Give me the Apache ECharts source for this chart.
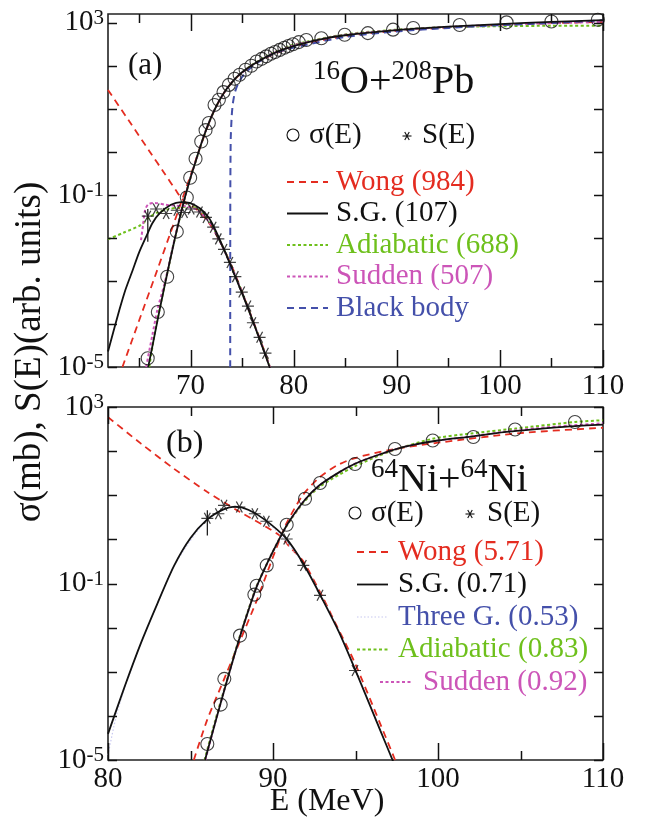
<!DOCTYPE html>
<html>
<head>
<meta charset="utf-8">
<script src="https://cdn.jsdelivr.net/npm/echarts@6.0.0/dist/echarts.min.js"></script>
<style>
  html, body { margin: 0; padding: 0; background: #fff; }
  #chart { width: 650px; height: 823px; }
</style>
</head>
<body>
<div id="chart"></div>
<script>
'use strict'

// ---- panel (a): 16O + 208Pb, [E (MeV), value] ----
const aSigma = [[65.85, 1.6e-5], [66.83, 1.9e-4], [67.74, 1.25e-3], [68.67, 1.4e-2], [69.64, 0.087], [69.97, 0.25],
  [70.49, 0.69], [71.04, 1.74], [71.46, 3.2], [71.78, 4.7], [72.33, 12.3], [72.75, 16.2], [73.2, 24.5], [73.72, 36],
  [74.27, 50], [74.76, 62], [75.34, 81], [75.9, 100], [76.4, 126], [76.9, 145], [77.35, 166], [77.8, 190], [78.2, 209],
  [78.64, 234], [79.1, 263], [79.5, 288], [79.93, 316], [80.5, 355], [81.23, 398], [82.69, 437], [84.95, 525],
  [87.2, 575], [89.64, 692], [91.6, 759], [96.1, 891], [100.65, 1023], [105.0, 1072], [109.5, 1175]]
const aSdata = [[65.86, 0.032], [66.67, 0.047], [67.64, 0.037], [68.67, 0.044], [69.42, 0.039], [70.07, 0.047],
  [70.87, 0.040], [71.5, 0.030], [72.2, 0.0178], [72.7, 0.0095], [73.25, 0.0054], [73.82, 0.0027], [74.35, 0.00126],
  [74.97, 5.5e-4], [75.57, 2.6e-4], [76.05, 1.07e-4], [76.7, 4.9e-5], [77.27, 2.1e-5]]
const aSerr = [[65.86, 0.0081], [65.86, 0.047]]
const aSgS = [[62.0, 2.3e-5], [62.5, 6.3e-5], [63.1, 2.1e-4], [63.7, 6.3e-4], [64.4, 1.8e-3], [65.0, 4.5e-3],
  [65.7, 0.0107], [66.3, 0.022], [67.0, 0.037], [68.1, 0.059], [69.1, 0.068], [69.9, 0.065], [70.9, 0.049],
  [71.8, 0.029], [72.5, 0.0138], [73.2, 5.75e-3], [74.0, 2.0e-3], [75.0, 5.2e-4], [76.0, 1.26e-4], [77.0, 2.8e-5],
  [77.7, 9.5e-6]]
const aSgSigma = [[65.9, 1e-5], [66.5, 5.2e-5], [67.0, 2.1e-4], [67.5, 7.9e-4], [68.0, 2.9e-3], [68.5, 0.01],
  [69.0, 0.032], [69.5, 0.095], [70.0, 0.25], [70.5, 0.6], [71.0, 1.45], [71.5, 3.16], [72.0, 6.3], [72.5, 11.5],
  [73.0, 19], [73.5, 28.8], [74.0, 40.7], [74.5, 55], [75.0, 71], [76.0, 105], [77.0, 145], [78.0, 191],
  [79.0, 240], [80.0, 288], [82.5, 407], [85.0, 513], [90.0, 676], [95.0, 813], [100.0, 933], [105.0, 1047],
  [110.0, 1148]]
const aWongS = [[62.0, 27.5], [64.0, 5.4], [66.0, 1.05], [67.5, 0.31], [68.6, 0.126], [69.1, 0.085], [69.6, 0.064],
  [70.2, 0.054], [71.0, 0.038], [72.0, 0.019], [73.0, 0.0072], [74.0, 2.2e-3], [75.0, 5.6e-4], [76.0, 1.3e-4],
  [77.0, 3.0e-5], [77.7, 1e-5]]
const aWongSigma = [[63.4, 1e-5], [65.0, 1.17e-4], [66.5, 1.17e-3], [68.0, 0.012], [68.8, 0.0417], [69.4, 0.11],
  [70.0, 0.28], [70.5, 0.63], [71.0, 1.41], [72.0, 6.3], [73.0, 19], [74.0, 40.7], [75.0, 69], [77.0, 141],
  [80.0, 275], [85.0, 490], [90.0, 646], [95.0, 776], [100.0, 891], [105.0, 977], [110.0, 1047]]
const aAdiaS = [[62.0, 0.0093], [63.5, 0.0132], [65.2, 0.020], [66.0, 0.030], [66.8, 0.039], [67.8, 0.046],
  [68.8, 0.051], [70.0, 0.054], [71.0, 0.043], [72.0, 0.021], [73.0, 0.0072], [74.0, 2.1e-3], [75.0, 5.4e-4],
  [76.0, 1.26e-4], [77.0, 2.9e-5], [77.7, 1e-5]]
const aAdiaSigma = [[66.0, 1e-5], [66.5, 5.5e-5], [67.0, 2.2e-4], [67.5, 8.1e-4], [68.0, 2.9e-3], [68.5, 0.01],
  [69.0, 0.032], [69.5, 0.095], [70.0, 0.25], [70.5, 0.6], [71.5, 3.16], [72.5, 11.5], [73.5, 28.8], [74.5, 55],
  [76.0, 107], [78.0, 200], [80.0, 309], [85.0, 537], [90.0, 692], [95.0, 794], [100.0, 832], [105.0, 851],
  [110.0, 851]]
const aSudS = [[65.2, 0.0089], [65.4, 0.020], [65.6, 0.045], [65.9, 0.060], [66.5, 0.065], [67.6, 0.059],
  [68.6, 0.056], [69.6, 0.054], [70.5, 0.047], [71.2, 0.035], [72.0, 0.020], [73.0, 0.0070], [74.0, 2.1e-3],
  [75.0, 5.4e-4], [76.0, 1.26e-4], [77.0, 2.9e-5], [77.7, 1e-5]]
const aSudSigma = [[65.7, 1e-5], [66.3, 5.5e-5], [66.8, 2.2e-4], [67.5, 9e-4], [68.0, 3.0e-3], [68.5, 0.0105],
  [69.0, 0.033], [69.5, 0.097], [70.0, 0.25], [70.5, 0.61], [71.5, 3.2], [72.5, 11.5], [73.5, 28.8], [74.5, 55],
  [76.0, 105], [78.0, 195], [80.0, 300], [85.0, 525], [90.0, 676], [95.0, 800], [100.0, 900], [105.0, 980],
  [110.0, 1050]]
const aBlackBody = [[73.85, 1e-5], [73.86, 0.1], [73.9, 2], [74.0, 7], [74.1, 13], [74.3, 24], [74.6, 38],
  [75.0, 55], [75.5, 76], [76.4, 115], [78.0, 190], [80.0, 265], [85.0, 470], [90.0, 630], [95.0, 760],
  [100.0, 880], [105.0, 990], [110.0, 1140]]

// ---- panel (b): 64Ni + 64Ni ----
const bSigma = [[86.02, 2.3e-5], [86.83, 1.8e-4], [87.05, 6.9e-4], [88.0, 6.6e-3], [88.87, 0.056], [89.01, 0.089],
  [89.62, 0.257], [90.83, 2.14], [91.94, 8.3], [92.85, 19], [94.97, 51], [97.39, 112], [99.68, 174], [102.14, 209],
  [104.67, 309], [108.3, 457]]
const bSdata = [[86.02, 3.0], [86.69, 3.8], [87.03, 5.9], [87.96, 5.4], [88.9, 3.8], [89.6, 2.57], [90.83, 1.02],
  [91.84, 0.257], [92.85, 0.054], [94.97, 1.07e-3]]
const bSerr = [[86.02, 1.23], [86.02, 4.6]]
const bSgS = [[80.0, 3.9e-5], [81.0, 4.5e-4], [82.0, 4.5e-3], [83.0, 0.0355], [84.0, 0.25], [85.0, 1.07],
  [86.0, 2.8], [87.0, 4.8], [87.7, 5.5], [88.5, 4.7], [89.5, 2.8], [90.8, 1.05], [91.84, 0.28], [92.85, 0.056],
  [94.0, 7.9e-3], [95.0, 1.07e-3], [96.5, 4.7e-5], [97.3, 8.9e-6]]
const bSgSigma = [[85.88, 1e-5], [86.5, 7.1e-5], [87.0, 3.3e-4], [87.5, 1.48e-3], [88.0, 6.3e-3], [88.5, 0.024],
  [89.0, 0.083], [89.7, 0.316], [90.3, 0.89], [90.9, 2.29], [91.9, 7.6], [92.8, 16.6], [94.0, 33], [95.0, 52.5],
  [96.5, 85], [98.0, 126], [100.0, 174], [102.0, 214], [104.0, 269], [106.0, 316], [108.0, 363], [110.0, 398]]
const bWongS = [[80.0, 589], [82.0, 148], [84.0, 39.8], [86.0, 12.0], [88.0, 4.17], [89.5, 2.0], [90.5, 1.15],
  [91.0, 0.68], [91.8, 0.33], [93.0, 0.05], [93.7, 0.0145], [94.9, 1.78e-3], [96.5, 6.6e-5], [97.4, 1e-5]]
const bWongSigma = [[85.2, 1e-5], [86.0, 7.9e-5], [87.0, 6.3e-4], [88.0, 5.0e-3], [89.0, 0.04], [89.6, 0.158],
  [90.2, 0.63], [90.8, 2.24], [91.8, 10], [92.8, 25], [93.86, 47], [94.87, 68], [97.0, 105], [100.0, 155],
  [105.0, 257], [110.0, 339]]
const bAdiaSigma = [[85.85, 1e-5], [86.5, 7.9e-5], [87.0, 3.5e-4], [87.5, 1.58e-3], [88.0, 6.6e-3], [88.5, 0.025],
  [89.0, 0.087], [89.7, 0.316], [90.3, 0.89], [90.9, 2.24], [91.9, 7.2], [92.85, 15.8], [94.87, 43.7], [97.0, 95.5],
  [99.68, 191], [102.0, 251], [104.67, 324], [108.3, 457], [110.0, 501]]
const bSudSigma = [[85.9, 1e-5], [86.5, 7.1e-5], [87.0, 3.3e-4], [87.5, 1.48e-3], [88.0, 6.3e-3], [88.5, 0.024],
  [89.0, 0.083], [89.7, 0.316], [90.3, 0.89], [90.9, 2.29], [91.9, 7.6], [92.8, 16.6], [94.0, 33], [95.0, 52.5],
  [96.5, 85], [98.0, 126], [100.0, 174], [102.0, 214], [104.0, 275], [106.0, 331], [108.0, 380], [110.0, 427]]
const bThreeS = [[80.0, 1.3e-5], [80.5, 1.0e-4], [81.0, 4.2e-4], [82.0, 4.5e-3], [83.0, 0.0355], [84.0, 0.25],
  [86.0, 2.8], [87.7, 5.5], [89.5, 2.8], [91.84, 0.28], [94.0, 7.9e-3], [96.5, 4.7e-5], [97.3, 8.9e-6]]

// ticks and labels
const aMajorTicks = [70, 80, 90, 100, 110]
const aMinorTicks = [65, 75, 85, 95, 105]
const bMajorTicks = [80, 90, 100, 110]
const bMinorTicks = [85, 95, 105]
const yDecades = [1e-5, 1e-4, 1e-3, 1e-2, 1e-1, 1, 10, 100, 1000]
const yLabelExps = [3, -1, -5]

const aLegendText = ['Wong (984)', 'S.G. (107)', 'Adiabatic (688)', 'Sudden (507)', 'Black body']
const bLegendText = ['Wong (5.71)', 'S.G. (0.71)', 'Three G. (0.53)', 'Adiabatic (0.83)', 'Sudden (0.92)']

const FONT = 'Liberation Serif'
const INK = '#111'
const RED = '#e42c20'
const GREEN = '#6ec01c'
const MAGENTA = '#cc55b8'
const BLUE = '#4450aa'
const PALE = '#c8c8f0'
const DASH = [7, 5]
const DOT = [3, 2.5]
const STAR = 'path://M0,50L100,50M25,7L75,93M75,7L25,93'

const panels = [
  { left: 108, top: 14, width: 495, height: 353, xMin: 62, xMax: 110, yMax: 1600, major: aMajorTicks, minor: aMinorTicks },
  { left: 108, top: 407, width: 495, height: 353, xMin: 80, xMax: 110, yMax: 1000, major: bMajorTicks, minor: bMinorTicks }
]

function xAxisOf (g) {
  const p = panels[g]
  return { type: 'value', gridIndex: g, min: p.xMin, max: p.xMax, splitLine: { show: false },
    axisLine: { show: false }, axisTick: { show: false },
    axisLabel: { customValues: p.major, fontFamily: FONT, fontSize: 29, color: INK, margin: 5 } }
}

function powLabel (v) {
  const e = Math.log10(v)
  const r = Math.round(e)
  if (Math.abs(e - r) > 1e-6 || yLabelExps.indexOf(r) < 0) return ''
  return '{b|10}{s|' + (r < 0 ? '-' + (-r) : r) + '}'
}

function yAxisOf (g) {
  return { type: 'log', logBase: 10, gridIndex: g, min: 1e-5, max: panels[g].yMax, interval: 1, splitNumber: 8,
    splitLine: { show: false }, minorTick: { show: false }, axisLine: { show: false }, axisTick: { show: false },
    axisLabel: { formatter: powLabel, margin: 4,
      rich: {
        b: { fontFamily: FONT, fontSize: 29, color: INK, lineHeight: 30, verticalAlign: 'middle' },
        s: { fontFamily: FONT, fontSize: 21, color: INK, lineHeight: 21, verticalAlign: 'top' }
      } } }
}

function curve (data, xi, yi, color, width, dash, smooth) {
  return { type: 'line', xAxisIndex: xi, yAxisIndex: yi, data, symbol: 'none', showSymbol: false,
    smooth: smooth === undefined ? 0.25 : smooth, silent: true,
    lineStyle: { color, width, type: dash } }
}

function circles (data, xi, yi) {
  return { type: 'scatter', xAxisIndex: xi, yAxisIndex: yi, data, symbol: 'circle', symbolSize: 13, z: 5,
    itemStyle: { color: 'rgba(0,0,0,0)', borderColor: INK, borderWidth: 1.1 } }
}

function stars (data, xi, yi) {
  return { type: 'scatter', xAxisIndex: xi, yAxisIndex: yi, data, symbol: STAR, symbolSize: [12, 11], z: 6,
    itemStyle: { color: 'rgba(0,0,0,0)', borderColor: INK, borderWidth: 1.2 } }
}

function text (x, y, str, size, color, extra) {
  return { type: 'text', x, y, z: 20,
    style: Object.assign({ text: str, fontFamily: FONT, fontSize: size, fill: color || INK,
      align: 'left', verticalAlign: 'middle' }, extra || {}) }
}

function seg (x1, y1, x2, y2, color, width, dash) {
  return { type: 'line', z: 20, shape: { x1, y1, x2, y2 },
    style: { stroke: color, lineWidth: width, lineDash: dash || null } }
}

function starMark (cx, cy, r) {
  const dx = r / 2
  const dy = r * 0.87
  return [
    seg(cx - r, cy, cx + r, cy, INK, 1.1),
    seg(cx - dx, cy - dy, cx + dx, cy + dy, INK, 1.1),
    seg(cx + dx, cy - dy, cx - dx, cy + dy, INK, 1.1)
  ]
}

function ring (cx, cy) {
  return { type: 'circle', z: 20, shape: { cx, cy, r: 6 }, style: { fill: 'none', stroke: INK, lineWidth: 1.1 } }
}

// tick marks on all four sides of a panel, spaced like its linear x axis and log y axis
const TICK = '#111'
function panelTicks (p) {
  const out = []
  const left = p.left
  const right = p.left + p.width
  const top = p.top
  const bottom = p.top + p.height
  const decades = Math.log10(p.yMax) + 5
  const xTick = function (v, len) {
    const x = Math.round(left + (v - p.xMin) / (p.xMax - p.xMin) * p.width) + 0.5
    out.push(seg(x, bottom, x, bottom - len, TICK, 1.5))
    out.push(seg(x, top, x, top + len, TICK, 1.5))
  }
  p.major.forEach(v => xTick(v, 17))
  p.minor.forEach(v => xTick(v, 9))
  yDecades.forEach(function (v) {
    const y = Math.round(top + (Math.log10(p.yMax) - Math.log10(v)) / decades * p.height) + 0.5
    out.push(seg(left, y, left + 9, y, TICK, 1.5))
    out.push(seg(right, y, right - 9, y, TICK, 1.5))
  })
  return out
}

const titleRich = {
  m: { fontFamily: FONT, fontSize: 40, color: INK, lineHeight: 44, verticalAlign: 'bottom' },
  s: { fontFamily: FONT, fontSize: 27, color: INK, lineHeight: 30, verticalAlign: 'top' }
}

const aStyles = [[RED, 1.8, DASH], [INK, 1.8, null], [GREEN, 2, DOT], [MAGENTA, 2, DOT], [BLUE, 2, DASH]]
const aTextColors = [RED, INK, GREEN, MAGENTA, BLUE]
const bStyles = [[RED, 1.8, DASH], [INK, 1.8, null], [PALE, 1.2, [1.5, 2]], [GREEN, 2, DOT], [MAGENTA, 2, DOT]]
const bTextColors = [RED, INK, BLUE, GREEN, MAGENTA]

const yName = text(30, 352, 'σ(mb), S(E)(arb. units)', 37, INK, { align: 'center' })
yName.rotation = Math.PI / 2

const graphics = [
  ...panelTicks(panels[0]),
  ...panelTicks(panels[1]),
  text(128, 66, '(a)', 31),
  text(313, 80, '{s|16}{m|O+}{s|208}{m|Pb}', 40, INK, { rich: titleRich }),
  ring(293, 135), text(309, 135, 'σ(E)', 29),
  ...starMark(407, 136, 4.5), text(422, 135, 'S(E)', 29),
  text(166, 444, '(b)', 32),
  text(371, 478, '{s|64}{m|Ni+}{s|64}{m|Ni}', 40, INK, { rich: titleRich }),
  ring(355, 513), text(371, 513, 'σ(E)', 29),
  ...starMark(470, 514, 4.5), text(487, 513, 'S(E)', 29),
  yName,
  text(327, 802, 'E (MeV)', 32, INK, { align: 'center' })
]

aLegendText.forEach(function (t, i) {
  const y = 182 + i * 31.5
  const s = aStyles[i]
  graphics.push(seg(287, y, 328, y, s[0], s[1], s[2]))
  graphics.push(text(336, y, t, 29, aTextColors[i]))
})
bLegendText.forEach(function (t, i) {
  const y = 552 + i * 32.5
  const s = bStyles[i]
  const x0 = i === 4 ? 380 : 357
  const x1 = i === 4 ? 413 : 388
  graphics.push(seg(x0, y, x1, y, s[0], s[1], s[2]))
  graphics.push(text(i === 4 ? 423 : 398, y, t, 29, bTextColors[i]))
})

const panelFrame = { show: true, borderColor: '#222', borderWidth: 1.6, backgroundColor: 'transparent' }

const chart = echarts.init(document.getElementById('chart'), null, { renderer: 'canvas' })
chart.setOption({
  animation: false,
  backgroundColor: '#fff',
  grid: panels.map(p => ({ left: p.left, top: p.top, width: p.width, height: p.height, ...panelFrame })),
  xAxis: [xAxisOf(0), xAxisOf(1)],
  yAxis: [yAxisOf(0), yAxisOf(1)],
  series: [
    curve(aWongS, 0, 0, RED, 1.8, DASH),
    curve(aWongSigma, 0, 0, RED, 1.8, DASH),
    curve(aAdiaS, 0, 0, GREEN, 2, DOT),
    curve(aAdiaSigma, 0, 0, GREEN, 2, DOT),
    curve(aSudS, 0, 0, MAGENTA, 2, DOT),
    curve(aSudSigma, 0, 0, MAGENTA, 2, DOT),
    curve(aBlackBody, 0, 0, BLUE, 2, DASH, 0.2),
    curve(aSgS, 0, 0, INK, 1.8, 'solid'),
    curve(aSgSigma, 0, 0, INK, 1.8, 'solid'),
    curve(aSerr, 0, 0, INK, 1.2, 'solid', false),
    circles(aSigma, 0, 0),
    stars(aSdata, 0, 0),

    curve(bWongS, 1, 1, RED, 1.8, DASH),
    curve(bWongSigma, 1, 1, RED, 1.8, DASH),
    curve(bAdiaSigma, 1, 1, GREEN, 2, DOT),
    curve(bSudSigma, 1, 1, MAGENTA, 2, DOT),
    curve(bThreeS, 1, 1, PALE, 1.2, [1.5, 2]),
    curve(bSgS, 1, 1, INK, 1.8, 'solid'),
    curve(bSgSigma, 1, 1, INK, 1.8, 'solid'),
    curve(bSerr, 1, 1, INK, 1.2, 'solid', false),
    circles(bSigma, 1, 1),
    stars(bSdata, 1, 1)
  ],
  graphic: graphics
})
</script>
</body>
</html>
